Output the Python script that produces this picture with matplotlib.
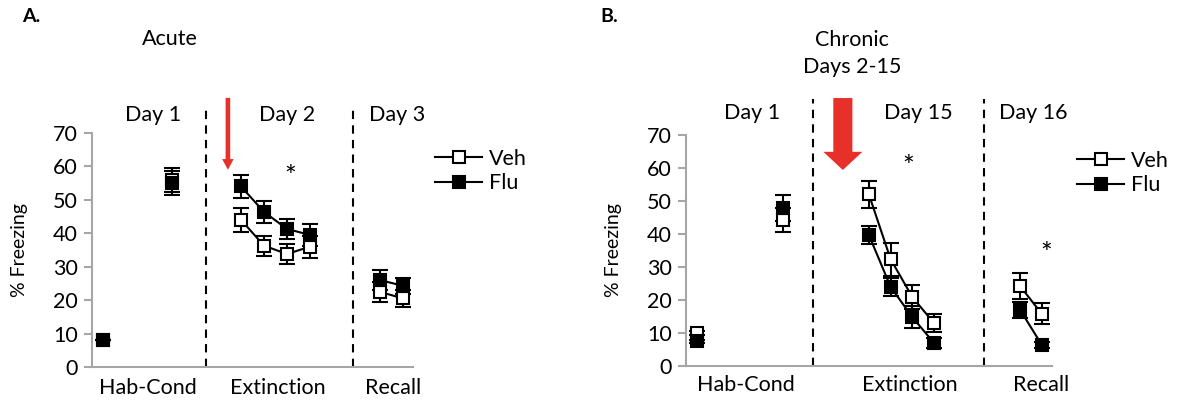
import matplotlib
matplotlib.use("Agg")
import matplotlib.pyplot as plt
from matplotlib.lines import Line2D
from matplotlib.patches import FancyArrow

plt.rcParams['font.family'] = ['Lato', 'DejaVu Sans']

# Data (% freezing, mean and SEM)
groups = ['Veh', 'Flu']

# Panel A - Acute
acute_hab_veh = [8, 56]
acute_hab_flu = [8, 55]
acute_hab_veh_err = [0, 3.5]
acute_hab_flu_err = [0, 3.5]
acute_ext_veh = [44, 36.3, 33.8, 36]
acute_ext_flu = [54, 46.4, 41.3, 39.5]
acute_ext_veh_err = [3.5, 3, 3, 3.3]
acute_ext_flu_err = [3.5, 3.3, 3, 3.3]
acute_rec_veh = [22.5, 20.5]
acute_rec_flu = [26, 24.3]
acute_rec_veh_err = [3, 2.5]
acute_rec_flu_err = [3, 2.4]

# Panel B - Chronic
chronic_hab_veh = [10, 44.2]
chronic_hab_flu = [7.5, 47.9]
chronic_hab_veh_err = [0.5, 3.6]
chronic_hab_flu_err = [0.5, 3.9]
chronic_ext_veh = [52, 32.4, 20.9, 13]
chronic_ext_flu = [39.7, 24, 14.8, 7]
chronic_ext_veh_err = [4, 5, 3.5, 2.8]
chronic_ext_flu_err = [2.7, 2.8, 3.3, 1.5]
chronic_rec_veh = [24.2, 15.8]
chronic_rec_flu = [17, 6.4]
chronic_rec_veh_err = [4, 3.2]
chronic_rec_flu_err = [2.5, 0.8]

W, H = 1177, 403
fig = plt.figure(figsize=(W / 100, H / 100), dpi=100)


def px_axes(x0, x1, y_top, y_bot):
    return fig.add_axes([x0 / W, 1 - y_bot / H, (x1 - x0) / W, (y_bot - y_top) / H])


def series(ax, x, y, err, filled, line=True):
    face = 'black' if filled else 'white'
    ax.errorbar(x, y, yerr=err, fmt='s-' if line else 's', color='black',
                mfc=face, mec='black', mew=1.5, ms=9, lw=1.5,
                ecolor='black', elinewidth=1.5, capsize=6, capthick=1.5,
                clip_on=False, zorder=3)


def style_axes(ax, xmax):
    ax.set_xlim(0, xmax)
    ax.set_ylim(0, 70)
    ax.set_yticks(range(0, 71, 10))
    ax.set_xticks([])
    for s in ['top', 'right']:
        ax.spines[s].set_visible(False)
    for s in ['left', 'bottom']:
        ax.spines[s].set_color('#a6a6a6')
        ax.spines[s].set_linewidth(1.5)
    ax.tick_params(axis='y', colors='#a6a6a6', length=6, width=1.5,
                   labelsize=15.5, labelcolor='black', pad=4)
    ax.set_ylabel('% Freezing', fontsize=14)


def panel(ax, pos, data, div_x, dash_top, labels, label_x, day_y, cond_y,
          cond_x, star_pts, arrow, legend_xy):
    hab_x, ext_x, rec_x = pos
    (hv, hve, hf, hfe, ev, eve, ef, efe, rv, rve, rf, rfe) = data
    for xv in div_x:
        ax.plot([xv, xv], [0, dash_top], color='black', lw=1.5,
                ls=(0, (4, 3)), clip_on=False, zorder=1)
    series(ax, hab_x, hv, hve, False, line=False)
    series(ax, hab_x, hf, hfe, True, line=False)
    series(ax, ext_x, ev, eve, False)
    series(ax, ext_x, ef, efe, True)
    series(ax, rec_x, rv, rve, False)
    series(ax, rec_x, rf, rfe, True)
    for t, xv in zip(labels, label_x):
        ax.text(xv, day_y, t, ha='center', va='center', fontsize=15.5,
                clip_on=False)
    for t, xv in zip(['Hab-Cond', 'Extinction', 'Recall'], cond_x):
        ax.text(xv, cond_y, t, ha='center', va='center', fontsize=15.5,
                clip_on=False)
    for sx, sy in star_pts:
        ax.text(sx, sy, '*', ha='center', va='center', fontsize=20)
    ax_x, top, tip, w, hw, hl = arrow
    ax.add_patch(FancyArrow(ax_x, top, 0, tip - top, width=w, head_width=hw,
                            head_length=hl, length_includes_head=True,
                            color='#e8302a', lw=0, clip_on=False, zorder=4))
    handles = [Line2D([], [], color='black', lw=1.5, marker='s', ms=9,
                      mfc=c, mec='black', mew=1.5) for c in ['white', 'black']]
    fig.legend(handles, groups, loc='upper left', frameon=False, fontsize=15.5,
               bbox_to_anchor=(legend_xy[0] / W, 1 - legend_xy[1] / H),
               bbox_transform=fig.transFigure, borderpad=0, borderaxespad=0,
               handlelength=2.2, handletextpad=0.3, labelspacing=0.2)


# Panel A
axA = px_axes(92, 413, 133, 367)
style_axes(axA, 13.96)
axA.yaxis.set_label_coords(-0.2, 0.5)
panel(axA,
      ([0.48, 3.48], [6.48, 7.48, 8.48, 9.48], [12.52, 13.52]),
      (acute_hab_veh, acute_hab_veh_err, acute_hab_flu, acute_hab_flu_err,
       acute_ext_veh, acute_ext_veh_err, acute_ext_flu, acute_ext_flu_err,
       acute_rec_veh, acute_rec_veh_err, acute_rec_flu, acute_rec_flu_err),
      [4.96, 11.35], 78.5, ['Day 1', 'Day 2', 'Day 3'], [2.65, 8.48, 13.26],
      75.5, -6.3, [2.43, 8.1, 13.1], [(8.6, 56.5)],
      (5.91, 80.5, 59, 0.2, 0.5, 3.2), (435, 149))

# Panel B
axB = px_axes(686, 1052, 135, 366)
style_axes(axB, 16.87)
axB.yaxis.set_label_coords(-0.175, 0.5)
panel(axB,
      ([0.5, 4.47], [8.43, 9.43, 10.43, 11.43], [15.4, 16.4]),
      (chronic_hab_veh, chronic_hab_veh_err, chronic_hab_flu, chronic_hab_flu_err,
       chronic_ext_veh, chronic_ext_veh_err, chronic_ext_flu, chronic_ext_flu_err,
       chronic_rec_veh, chronic_rec_veh_err, chronic_rec_flu, chronic_rec_flu_err),
      [5.85, 13.73], 81, ['Day 1', 'Day 15', 'Day 16'], [3.04, 10.7, 16.0],
      76.7, -5.8, [2.76, 10.3, 16.35], [(10.25, 60), (16.6, 33.5)],
      (7.23, 81.2, 59.4, 0.88, 1.8, 5.5), (1077, 151))

fig.text(22 / W, 1 - 17 / H, 'A.', fontsize=14, fontweight='bold', va='center')
fig.text(600 / W, 1 - 17 / H, 'B.', fontsize=14, fontweight='bold', va='center')
fig.text(170 / W, 1 - 39 / H, 'Acute', fontsize=15.5, ha='center', va='center')
fig.text(852 / W, 1 - 40 / H, 'Chronic', fontsize=15.5, ha='center', va='center')
fig.text(852 / W, 1 - 67 / H, 'Days 2-15', fontsize=15.5, ha='center', va='center')

fig.savefig('out.png', dpi=100)
